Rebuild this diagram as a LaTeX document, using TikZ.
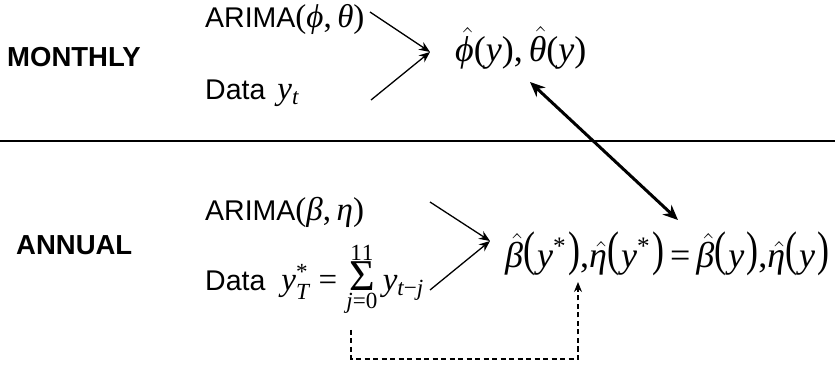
\RequirePackage{fix-cm}
\documentclass[tikz,border=0pt]{standalone}
\usepackage{graphicx}
\usepackage[no-math]{fontspec}
\setmainfont{Liberation Sans}
\newfontfamily\tmsfam{Liberation Serif}[NFSSFamily=tmss]
\DeclareSymbolFont{tletters}{TU}{tmss}{m}{it}
\DeclareSymbolFont{tupright}{TU}{tmss}{m}{n}
\AtBeginDocument{%
\Umathcode`y=0 \symtletters `y
\Umathcode`t=0 \symtletters `t
\Umathcode`T=0 \symtletters `T
\Umathcode`j=0 \symtletters `j
\Umathcode`0=0 \symtupright `0
\Umathcode`1=0 \symtupright `1
\Umathcode`(=4 \symtupright `(
\Umathcode`)=5 \symtupright `)
\Umathcode`,=0 \symtupright `,
\Umathcode`*=0 \symtupright `*
\Umathcode`==3 \symtupright `=
\Umathchardef\tphi=0 \symtletters "03D5
\Umathchardef\ttheta=0 \symtletters "03B8
\Umathchardef\tbeta=0 \symtletters "03B2
\Umathchardef\teta=0 \symtletters "03B7
\Umathchardef\tminus=2 \symtupright "2212
}
\newcommand{\bigsig}{\mathop{\hbox{\tmsfam\fontsize{44}{44}\selectfont\symbol{"03A3}}}\limits}
\newcommand{\lbp}{\mathopen{\raisebox{2pt}{\scalebox{1}[1.35]{\tmsfam\fontsize{36}{36}\selectfont(}}}\mkern1mu}
\newcommand{\rbp}{\mkern1mu\mathclose{\raisebox{2pt}{\scalebox{1}[1.35]{\tmsfam\fontsize{36}{36}\selectfont)}}}}
\newcommand{\hh}[1]{\skew{3}{\hat}{#1}}
\usetikzlibrary{arrows.meta}
\tikzset{
  lbl/.style={anchor=base west, inner sep=0pt, font=\fontsize{27.5}{30}\selectfont\bfseries},
  txt/.style={anchor=base west, inner sep=0pt, font=\fontsize{28.5}{32}\selectfont},
  eqn/.style={anchor=base west, inner sep=0pt, font=\fontsize{36}{40}\selectfont},
  thin arrow/.style={line width=1.3pt, -{Stealth[length=11pt,width=9pt]}},
  thick arrow/.style={line width=3pt, {Stealth[length=15pt,width=13pt]}-{Stealth[length=15pt,width=13pt]}},
  dash arrow/.style={line width=1.2pt, dash pattern=on 5pt off 3.5pt, -{Stealth[length=10pt,width=8pt]}},
}
\newcommand{\mth}[1]{{\fontsize{33}{36}\selectfont$#1$}}
\begin{document}
\begin{tikzpicture}[x=1pt,y=1pt]
\useasboundingbox (0,0) rectangle (835,364);
% labels
\node[lbl] (monthly) at (7,297) {MONTHLY};
\node[lbl] (annual) at (16,109) {ANNUAL};
% monthly
\node[txt] (marima) at (205,336) {ARIMA\mth{(\tphi,\,\ttheta)}};
\node[txt] (mdata) at (205,264) {Data\hspace{12pt}\mth{y_t}};
\node[eqn] (mest) at (455,302.5) {$\hh{\tphi}(y),\mkern3mu\hh{\ttheta}(y)$};
% annual
\node[txt] (aarima) at (205,143) {ARIMA\mth{(\tbeta,\,\teta)}};
\node[txt] (adata) at (205,73) {Data\hspace{16pt}\mth{y^*_T=\bigsig_{j=0}^{11}y_{t\tminus j}}};
\node[eqn] (aest) at (505,96) {\thickmuskip=3mu $\hh{\tbeta}\lbp y^*\rbp,\hh{\teta}\lbp y^*\rbp=\hh{\tbeta}\lbp y\rbp,\hh{\teta}\lbp y\rbp$};
% separator
\coordinate (sepL) at (0,223);
\coordinate (sepR) at (835,223);
\draw[line width=2pt] (sepL) -- (sepR);
% monthly arrows
\coordinate (m1) at (370,352);
\coordinate (m2) at (371,264);
\coordinate (mtip) at (430,312);
\draw[thin arrow] (m1) -- (mtip);
\draw[thin arrow] (m2) -- (mtip);
% annual arrows
\coordinate (a1) at (430,162);
\coordinate (a2) at (430,74);
\coordinate (atip) at (490,123);
\draw[thin arrow] (a1) -- (atip);
\draw[thin arrow] (a2) -- (atip);
% double arrow
\coordinate (d1) at (530,282);
\coordinate (d2) at (678,144);
\draw[thick arrow] (d1) -- (d2);
% dashed feedback
\coordinate (f1) at (351,34);
\coordinate (f2) at (578,82);
\draw[dash arrow] (f1) -- (351,5) -- (578,5) -- (f2);
\end{tikzpicture}
\end{document}
